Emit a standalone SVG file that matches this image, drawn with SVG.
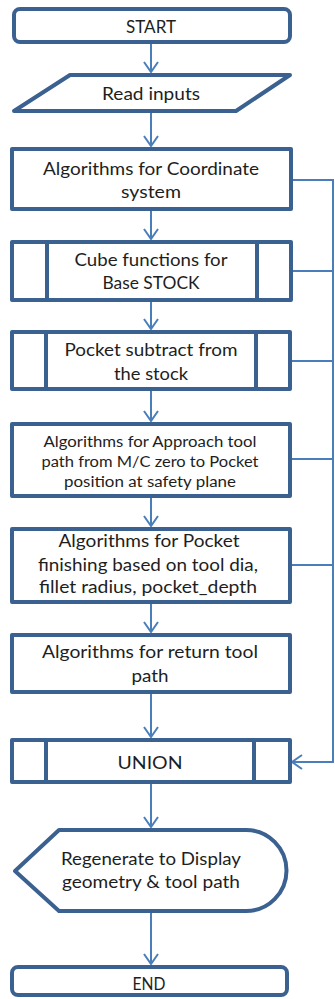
<svg xmlns="http://www.w3.org/2000/svg" width="335" height="999" viewBox="0 0 335 999">
  <style>
    .box { fill: #ffffff; stroke: #3b6190; stroke-width: 4; stroke-linejoin: round; }
    .bar { stroke: #3b6190; stroke-width: 4; }
    .lbl { font-family: Lato, "Liberation Sans", sans-serif; font-size: 16.5px; fill: #1e1e1e; text-anchor: middle; }
    .sm { font-size: 14.5px; }
    .wire { fill: none; stroke: #4a7ebb; stroke-width: 2; }
  </style>
  <defs>
    <marker id="arrow" viewBox="0 0 12 16" refX="11" refY="8" markerWidth="12" markerHeight="16" markerUnits="userSpaceOnUse" orient="auto">
      <path d="M1,1 L11,8 L1,15" fill="none" stroke="#4a7ebb" stroke-width="2"/>
    </marker>
  </defs>

  <!-- connectors -->
  <g id="connectors">
    <line class="wire" x1="151" y1="44" x2="151" y2="72" marker-end="url(#arrow)"/>
    <line class="wire" x1="151" y1="113" x2="151" y2="146" marker-end="url(#arrow)"/>
    <line class="wire" x1="151" y1="211" x2="151" y2="239" marker-end="url(#arrow)"/>
    <line class="wire" x1="151" y1="302" x2="151" y2="329" marker-end="url(#arrow)"/>
    <line class="wire" x1="151" y1="391" x2="151" y2="421" marker-end="url(#arrow)"/>
    <line class="wire" x1="151" y1="498" x2="151" y2="526" marker-end="url(#arrow)"/>
    <line class="wire" x1="151" y1="604" x2="151" y2="632" marker-end="url(#arrow)"/>
    <line class="wire" x1="151" y1="694" x2="151" y2="737" marker-end="url(#arrow)"/>
    <line class="wire" x1="151" y1="784" x2="151" y2="827" marker-end="url(#arrow)"/>
    <line class="wire" x1="151" y1="913" x2="151" y2="964" marker-end="url(#arrow)"/>
    <!-- side bus collecting the geometry steps into UNION -->
    <line class="wire" x1="293" y1="180" x2="333" y2="180"/>
    <line class="wire" x1="293" y1="271" x2="333" y2="271"/>
    <line class="wire" x1="292" y1="361" x2="333" y2="361"/>
    <line class="wire" x1="292" y1="459" x2="333" y2="459"/>
    <line class="wire" x1="292" y1="565" x2="333" y2="565"/>
    <polyline class="wire" points="333,179 333,762 292,762" marker-end="url(#arrow)"/>
  </g>

  <g id="start">
    <rect class="box" x="14" y="9" width="276" height="33" rx="6"/>
    <text class="lbl" x="151" y="33" textLength="50" lengthAdjust="spacingAndGlyphs">START</text>
  </g>

  <g id="read-inputs">
    <polygon class="box" points="70,75 290,75 236,111 14,111"/>
    <text class="lbl" x="151" y="100" textLength="98" lengthAdjust="spacingAndGlyphs">Read inputs</text>
  </g>

  <g id="coordinate-system">
    <rect class="box" x="12" y="149" width="279" height="60"/>
    <text class="lbl" x="151" y="175" textLength="216" lengthAdjust="spacingAndGlyphs">Algorithms for Coordinate</text>
    <text class="lbl" x="151" y="198" textLength="60" lengthAdjust="spacingAndGlyphs">system</text>
  </g>

  <g id="base-stock">
    <rect class="box" x="12" y="242" width="279" height="58"/>
    <line class="bar" x1="47" y1="242" x2="47" y2="300"/>
    <line class="bar" x1="257" y1="242" x2="257" y2="300"/>
    <text class="lbl" x="151" y="266" textLength="153" lengthAdjust="spacingAndGlyphs">Cube functions for</text>
    <text class="lbl" x="151" y="289" textLength="97" lengthAdjust="spacingAndGlyphs">Base STOCK</text>
  </g>

  <g id="pocket-subtract">
    <rect class="box" x="12" y="332" width="278" height="57"/>
    <line class="bar" x1="46" y1="332" x2="46" y2="389"/>
    <line class="bar" x1="256" y1="332" x2="256" y2="389"/>
    <text class="lbl" x="151" y="356" textLength="173" lengthAdjust="spacingAndGlyphs">Pocket subtract from</text>
    <text class="lbl" x="151" y="380" textLength="74" lengthAdjust="spacingAndGlyphs">the stock</text>
  </g>

  <g id="approach-path">
    <rect class="box" x="12" y="424" width="278" height="72"/>
    <text class="lbl sm" x="150" y="447" textLength="213" lengthAdjust="spacingAndGlyphs">Algorithms for Approach tool</text>
    <text class="lbl sm" x="150" y="467" textLength="217" lengthAdjust="spacingAndGlyphs">path from M/C zero to Pocket</text>
    <text class="lbl sm" x="150" y="487" textLength="172" lengthAdjust="spacingAndGlyphs">position at safety plane</text>
  </g>

  <g id="pocket-finishing">
    <rect class="box" x="12" y="529" width="278" height="73"/>
    <text class="lbl" x="149" y="547" textLength="181" lengthAdjust="spacingAndGlyphs">Algorithms for Pocket</text>
    <text class="lbl" x="148" y="571" textLength="220" lengthAdjust="spacingAndGlyphs">finishing based on tool dia,</text>
    <text class="lbl" x="148" y="593" textLength="218" lengthAdjust="spacingAndGlyphs">fillet radius, pocket_depth</text>
  </g>

  <g id="return-path">
    <rect class="box" x="12" y="635" width="278" height="57"/>
    <text class="lbl" x="150" y="658" textLength="216" lengthAdjust="spacingAndGlyphs">Algorithms for return tool</text>
    <text class="lbl" x="150" y="682" textLength="37" lengthAdjust="spacingAndGlyphs">path</text>
  </g>

  <g id="union">
    <rect class="box" x="12" y="740" width="278" height="42"/>
    <line class="bar" x1="46" y1="740" x2="46" y2="782"/>
    <line class="bar" x1="254" y1="740" x2="254" y2="782"/>
    <text class="lbl" x="150" y="769" textLength="65" lengthAdjust="spacingAndGlyphs">UNION</text>
  </g>

  <g id="display">
    <path class="box" d="M15,871 L59,830 L246,830 A40.5,40.5 0 0 1 246,911 L59,911 Z"/>
    <text class="lbl" x="151" y="865" textLength="180" lengthAdjust="spacingAndGlyphs">Regenerate to Display</text>
    <text class="lbl" x="151" y="888" textLength="178" lengthAdjust="spacingAndGlyphs">geometry &amp; tool path</text>
  </g>

  <g id="end">
    <rect class="box" x="12" y="967" width="275" height="28" rx="6"/>
    <text class="lbl" x="149" y="990" textLength="33" lengthAdjust="spacingAndGlyphs">END</text>
  </g>
</svg>
